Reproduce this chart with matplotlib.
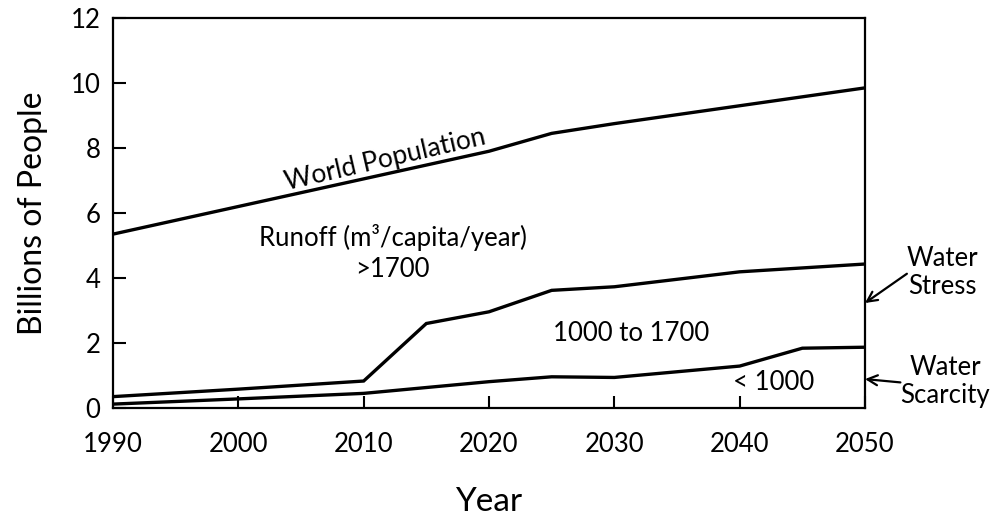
import matplotlib
matplotlib.use("Agg")
import matplotlib.pyplot as plt

plt.rcParams['font.family'] = ['Lato', 'DejaVu Sans']

# World population and populations living under each runoff class (billions)
pop_years = [1990, 2000, 2010, 2020, 2025, 2030, 2040, 2050]
world_population = [5.35, 6.2, 7.05, 7.9, 8.45, 8.75, 9.3, 9.85]

stress_years = [1990, 2000, 2010, 2015, 2020, 2025, 2030, 2040, 2050]
stress_or_scarcity = [0.35, 0.58, 0.83, 2.6, 2.96, 3.62, 3.73, 4.19, 4.43]

scarcity_years = [1990, 2000, 2010, 2020, 2025, 2030, 2040, 2045, 2050]
scarcity = [0.12, 0.28, 0.45, 0.81, 0.96, 0.94, 1.29, 1.84, 1.87]

x_ticks = [1990, 2000, 2010, 2020, 2030, 2040, 2050]
y_ticks = [0, 2, 4, 6, 8, 10, 12]

fig = plt.figure(figsize=(9.94, 5.16), dpi=100)
ax = fig.add_axes([113/994, 108/516, 752/994, 390/516])

lw = 2.4
ax.plot(pop_years, world_population, color='black', lw=lw, solid_joinstyle='miter')
ax.plot(stress_years, stress_or_scarcity, color='black', lw=lw, solid_joinstyle='miter')
ax.plot(scarcity_years, scarcity, color='black', lw=lw, solid_joinstyle='miter')

ax.set_xlim(1990, 2050)
ax.set_ylim(0, 12)
ax.set_xticks(x_ticks)
ax.set_yticks(y_ticks)
ax.tick_params(direction='in', length=9, width=1.5, labelsize=18.5, colors='black')
ax.tick_params(axis='x', pad=17)
ax.tick_params(axis='y', pad=9)
for s in ax.spines.values():
    s.set_linewidth(1.6)

ax.set_xlabel('Year', fontsize=24, labelpad=22)
ax.set_ylabel('Billions of People', fontsize=23, labelpad=16)

ax.text(2011.7, 7.63, 'World Population', fontsize=19, rotation=13,
        ha='center', va='center')
ax.text(2012.3, 5.26, 'Runoff (m³/capita/year)', fontsize=18.5,
        ha='center', va='center')
ax.text(2012.3, 4.25, '>1700', fontsize=18.5, ha='center', va='center')
ax.text(2031.3, 2.3, '1000 to 1700', fontsize=18.5, ha='center', va='center')
ax.text(2042.7, 0.8, '< 1000', fontsize=18.5, ha='center', va='center')

ax.annotate('Water\nStress', xy=(2050, 3.23), xytext=(2056.2, 4.18),
            fontsize=18.5, ha='center', va='center', linespacing=1.15,
            annotation_clip=False,
            arrowprops=dict(arrowstyle='->', color='black', lw=1.6,
                            shrinkA=0, shrinkB=0, mutation_scale=18,
                            patchA=None, relpos=(0.0, 0.47)))
ax.annotate('Water\nScarcity', xy=(2050, 0.89), xytext=(2056.4, 0.82),
            fontsize=18.5, ha='center', va='center', linespacing=1.15,
            annotation_clip=False,
            arrowprops=dict(arrowstyle='->', color='black', lw=1.6,
                            shrinkA=0, shrinkB=0, mutation_scale=18,
                            patchA=None, relpos=(0.0, 0.48)))

fig.savefig('out.png', dpi=100, facecolor='white')
